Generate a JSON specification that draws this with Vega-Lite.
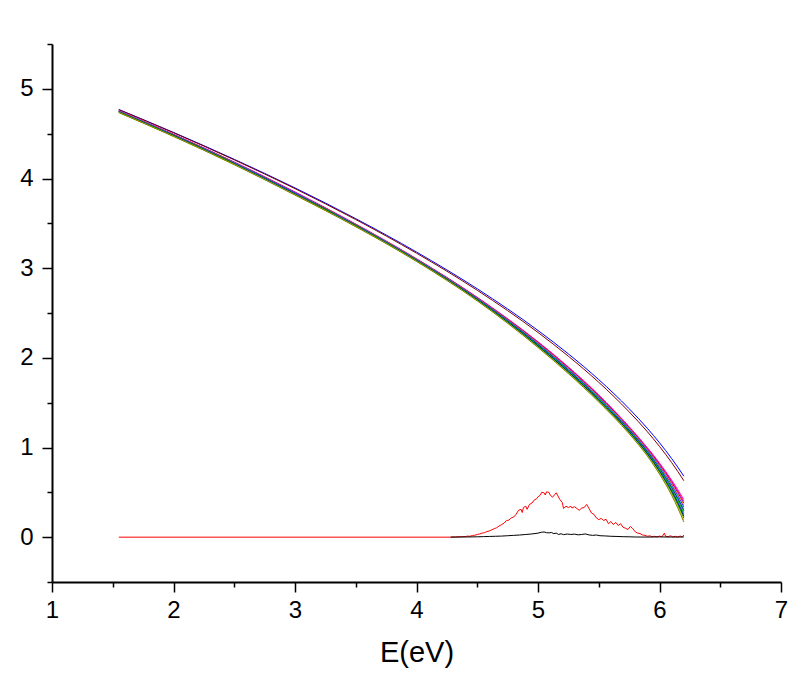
{
 "$schema": "https://vega.github.io/schema/vega-lite/v6.json",
 "width": 729, "height": 538,
 "autosize": {"type": "none"},
 "padding": {"left": 52, "top": 44, "right": 19, "bottom": 104},
 "background": "white",
 "config": {"view": {"stroke": null}},
 "datasets": {
  "fam": [
   {"c":"Blue","x":1.55,"y":4.770},{"c":"Blue","x":2,"y":4.514},{"c":"Blue","x":2.5,"y":4.214},{"c":"Blue","x":3,"y":3.895},{"c":"Blue","x":3.5,"y":3.552},{"c":"Blue","x":4,"y":3.180},{"c":"Blue","x":4.5,"y":2.770},{"c":"Blue","x":5,"y":2.305},{"c":"Blue","x":5.25,"y":2.044},{"c":"Blue","x":5.5,"y":1.757},{"c":"Blue","x":5.75,"y":1.433},{"c":"Blue","x":5.9,"y":1.214},{"c":"Blue","x":6,"y":1.053},{"c":"Blue","x":6.1,"y":0.877},{"c":"Blue","x":6.15,"y":0.782},{"c":"Blue","x":6.2,"y":0.680},
   {"c":"Wine","x":1.55,"y":4.767},{"c":"Wine","x":2,"y":4.510},{"c":"Wine","x":2.5,"y":4.208},{"c":"Wine","x":3,"y":3.887},{"c":"Wine","x":3.5,"y":3.542},{"c":"Wine","x":4,"y":3.167},{"c":"Wine","x":4.5,"y":2.753},{"c":"Wine","x":5,"y":2.283},{"c":"Wine","x":5.25,"y":2.018},{"c":"Wine","x":5.5,"y":1.727},{"c":"Wine","x":5.75,"y":1.398},{"c":"Wine","x":5.9,"y":1.176},{"c":"Wine","x":6,"y":1.012},{"c":"Wine","x":6.1,"y":0.832},{"c":"Wine","x":6.15,"y":0.734},{"c":"Wine","x":6.2,"y":0.630},
   {"c":"Magenta","x":1.55,"y":4.755},{"c":"Magenta","x":2,"y":4.494},{"c":"Magenta","x":2.5,"y":4.184},{"c":"Magenta","x":3,"y":3.850},{"c":"Magenta","x":3.5,"y":3.492},{"c":"Magenta","x":4,"y":3.105},{"c":"Magenta","x":4.5,"y":2.675},{"c":"Magenta","x":5,"y":2.180},{"c":"Magenta","x":5.25,"y":1.899},{"c":"Magenta","x":5.5,"y":1.587},{"c":"Magenta","x":5.75,"y":1.233},{"c":"Magenta","x":5.9,"y":0.999},{"c":"Magenta","x":6,"y":0.828},{"c":"Magenta","x":6.1,"y":0.637},{"c":"Magenta","x":6.15,"y":0.532},{"c":"Magenta","x":6.2,"y":0.420},
   {"c":"Pink","x":1.55,"y":4.753},{"c":"Pink","x":2,"y":4.492},{"c":"Pink","x":2.5,"y":4.182},{"c":"Pink","x":3,"y":3.847},{"c":"Pink","x":3.5,"y":3.490},{"c":"Pink","x":4,"y":3.103},{"c":"Pink","x":4.5,"y":2.672},{"c":"Pink","x":5,"y":2.175},{"c":"Pink","x":5.25,"y":1.893},{"c":"Pink","x":5.5,"y":1.580},{"c":"Pink","x":5.75,"y":1.226},{"c":"Pink","x":5.9,"y":0.991},{"c":"Pink","x":6,"y":0.818},{"c":"Pink","x":6.1,"y":0.623},{"c":"Pink","x":6.15,"y":0.515},{"c":"Pink","x":6.2,"y":0.399},
   {"c":"Purple","x":1.55,"y":4.752},{"c":"Purple","x":2,"y":4.490},{"c":"Purple","x":2.5,"y":4.179},{"c":"Purple","x":3,"y":3.844},{"c":"Purple","x":3.5,"y":3.487},{"c":"Purple","x":4,"y":3.100},{"c":"Purple","x":4.5,"y":2.668},{"c":"Purple","x":5,"y":2.169},{"c":"Purple","x":5.25,"y":1.886},{"c":"Purple","x":5.5,"y":1.574},{"c":"Purple","x":5.75,"y":1.220},{"c":"Purple","x":5.9,"y":0.983},{"c":"Purple","x":6,"y":0.807},{"c":"Purple","x":6.1,"y":0.609},{"c":"Purple","x":6.15,"y":0.498},{"c":"Purple","x":6.2,"y":0.378},
   {"c":"Orange","x":1.55,"y":4.750},{"c":"Orange","x":2,"y":4.488},{"c":"Orange","x":2.5,"y":4.177},{"c":"Orange","x":3,"y":3.841},{"c":"Orange","x":3.5,"y":3.485},{"c":"Orange","x":4,"y":3.098},{"c":"Orange","x":4.5,"y":2.665},{"c":"Orange","x":5,"y":2.164},{"c":"Orange","x":5.25,"y":1.880},{"c":"Orange","x":5.5,"y":1.567},{"c":"Orange","x":5.75,"y":1.213},{"c":"Orange","x":5.9,"y":0.975},{"c":"Orange","x":6,"y":0.797},{"c":"Orange","x":6.1,"y":0.594},{"c":"Orange","x":6.15,"y":0.481},{"c":"Orange","x":6.2,"y":0.358},
   {"c":"Violet","x":1.55,"y":4.748},{"c":"Violet","x":2,"y":4.486},{"c":"Violet","x":2.5,"y":4.174},{"c":"Violet","x":3,"y":3.838},{"c":"Violet","x":3.5,"y":3.482},{"c":"Violet","x":4,"y":3.095},{"c":"Violet","x":4.5,"y":2.662},{"c":"Violet","x":5,"y":2.158},{"c":"Violet","x":5.25,"y":1.874},{"c":"Violet","x":5.5,"y":1.560},{"c":"Violet","x":5.75,"y":1.206},{"c":"Violet","x":5.9,"y":0.967},{"c":"Violet","x":6,"y":0.786},{"c":"Violet","x":6.1,"y":0.580},{"c":"Violet","x":6.15,"y":0.464},{"c":"Violet","x":6.2,"y":0.337},
   {"c":"Cyan","x":1.55,"y":4.747},{"c":"Cyan","x":2,"y":4.484},{"c":"Cyan","x":2.5,"y":4.172},{"c":"Cyan","x":3,"y":3.835},{"c":"Cyan","x":3.5,"y":3.480},{"c":"Cyan","x":4,"y":3.093},{"c":"Cyan","x":4.5,"y":2.658},{"c":"Cyan","x":5,"y":2.153},{"c":"Cyan","x":5.25,"y":1.868},{"c":"Cyan","x":5.5,"y":1.554},{"c":"Cyan","x":5.75,"y":1.200},{"c":"Cyan","x":5.9,"y":0.959},{"c":"Cyan","x":6,"y":0.776},{"c":"Cyan","x":6.1,"y":0.566},{"c":"Cyan","x":6.15,"y":0.447},{"c":"Cyan","x":6.2,"y":0.316},
   {"c":"Navy","x":1.55,"y":4.745},{"c":"Navy","x":2,"y":4.482},{"c":"Navy","x":2.5,"y":4.169},{"c":"Navy","x":3,"y":3.833},{"c":"Navy","x":3.5,"y":3.477},{"c":"Navy","x":4,"y":3.090},{"c":"Navy","x":4.5,"y":2.655},{"c":"Navy","x":5,"y":2.148},{"c":"Navy","x":5.25,"y":1.861},{"c":"Navy","x":5.5,"y":1.547},{"c":"Navy","x":5.75,"y":1.193},{"c":"Navy","x":5.9,"y":0.952},{"c":"Navy","x":6,"y":0.765},{"c":"Navy","x":6.1,"y":0.552},{"c":"Navy","x":6.15,"y":0.430},{"c":"Navy","x":6.2,"y":0.295},
   {"c":"Green","x":1.55,"y":4.743},{"c":"Green","x":2,"y":4.479},{"c":"Green","x":2.5,"y":4.167},{"c":"Green","x":3,"y":3.830},{"c":"Green","x":3.5,"y":3.475},{"c":"Green","x":4,"y":3.088},{"c":"Green","x":4.5,"y":2.652},{"c":"Green","x":5,"y":2.142},{"c":"Green","x":5.25,"y":1.855},{"c":"Green","x":5.5,"y":1.540},{"c":"Green","x":5.75,"y":1.186},{"c":"Green","x":5.9,"y":0.944},{"c":"Green","x":6,"y":0.755},{"c":"Green","x":6.1,"y":0.538},{"c":"Green","x":6.15,"y":0.412},{"c":"Green","x":6.2,"y":0.274},
   {"c":"DarkCyan","x":1.55,"y":4.742},{"c":"DarkCyan","x":2,"y":4.477},{"c":"DarkCyan","x":2.5,"y":4.164},{"c":"DarkCyan","x":3,"y":3.827},{"c":"DarkCyan","x":3.5,"y":3.472},{"c":"DarkCyan","x":4,"y":3.085},{"c":"DarkCyan","x":4.5,"y":2.648},{"c":"DarkCyan","x":5,"y":2.137},{"c":"DarkCyan","x":5.25,"y":1.849},{"c":"DarkCyan","x":5.5,"y":1.534},{"c":"DarkCyan","x":5.75,"y":1.180},{"c":"DarkCyan","x":5.9,"y":0.936},{"c":"DarkCyan","x":6,"y":0.745},{"c":"DarkCyan","x":6.1,"y":0.524},{"c":"DarkCyan","x":6.15,"y":0.395},{"c":"DarkCyan","x":6.2,"y":0.253},
   {"c":"Royal","x":1.55,"y":4.740},{"c":"Royal","x":2,"y":4.475},{"c":"Royal","x":2.5,"y":4.162},{"c":"Royal","x":3,"y":3.824},{"c":"Royal","x":3.5,"y":3.470},{"c":"Royal","x":4,"y":3.083},{"c":"Royal","x":4.5,"y":2.645},{"c":"Royal","x":5,"y":2.131},{"c":"Royal","x":5.25,"y":1.843},{"c":"Royal","x":5.5,"y":1.527},{"c":"Royal","x":5.75,"y":1.173},{"c":"Royal","x":5.9,"y":0.928},{"c":"Royal","x":6,"y":0.734},{"c":"Royal","x":6.1,"y":0.509},{"c":"Royal","x":6.15,"y":0.378},{"c":"Royal","x":6.2,"y":0.233},
   {"c":"Olive","x":1.55,"y":4.738},{"c":"Olive","x":2,"y":4.473},{"c":"Olive","x":2.5,"y":4.159},{"c":"Olive","x":3,"y":3.821},{"c":"Olive","x":3.5,"y":3.467},{"c":"Olive","x":4,"y":3.080},{"c":"Olive","x":4.5,"y":2.642},{"c":"Olive","x":5,"y":2.126},{"c":"Olive","x":5.25,"y":1.836},{"c":"Olive","x":5.5,"y":1.520},{"c":"Olive","x":5.75,"y":1.166},{"c":"Olive","x":5.9,"y":0.920},{"c":"Olive","x":6,"y":0.724},{"c":"Olive","x":6.1,"y":0.495},{"c":"Olive","x":6.15,"y":0.361},{"c":"Olive","x":6.2,"y":0.212},
   {"c":"Yellow","x":1.55,"y":4.737},{"c":"Yellow","x":2,"y":4.471},{"c":"Yellow","x":2.5,"y":4.157},{"c":"Yellow","x":3,"y":3.818},{"c":"Yellow","x":3.5,"y":3.465},{"c":"Yellow","x":4,"y":3.078},{"c":"Yellow","x":4.5,"y":2.638},{"c":"Yellow","x":5,"y":2.120},{"c":"Yellow","x":5.25,"y":1.830},{"c":"Yellow","x":5.5,"y":1.514},{"c":"Yellow","x":5.75,"y":1.160},{"c":"Yellow","x":5.9,"y":0.912},{"c":"Yellow","x":6,"y":0.713},{"c":"Yellow","x":6.1,"y":0.481},{"c":"Yellow","x":6.15,"y":0.344},{"c":"Yellow","x":6.2,"y":0.191},
   {"c":"DarkYellow","x":1.55,"y":4.735},{"c":"DarkYellow","x":2,"y":4.469},{"c":"DarkYellow","x":2.5,"y":4.154},{"c":"DarkYellow","x":3,"y":3.815},{"c":"DarkYellow","x":3.5,"y":3.462},{"c":"DarkYellow","x":4,"y":3.075},{"c":"DarkYellow","x":4.5,"y":2.635},{"c":"DarkYellow","x":5,"y":2.115},{"c":"DarkYellow","x":5.25,"y":1.824},{"c":"DarkYellow","x":5.5,"y":1.507},{"c":"DarkYellow","x":5.75,"y":1.153},{"c":"DarkYellow","x":5.9,"y":0.904},{"c":"DarkYellow","x":6,"y":0.703},{"c":"DarkYellow","x":6.1,"y":0.467},{"c":"DarkYellow","x":6.15,"y":0.327},{"c":"DarkYellow","x":6.2,"y":0.170}
  ],
  "noise": [
   {"c":"Red","x":1.55,"y":0},{"c":"Red","x":4.28,"y":0},{"c":"Red","x":4.30,"y":0.003},{"c":"Red","x":4.32,"y":0.002},{"c":"Red","x":4.34,"y":0.005},{"c":"Red","x":4.36,"y":0.004},{"c":"Red","x":4.38,"y":0.008},{"c":"Red","x":4.40,"y":0.006},{"c":"Red","x":4.42,"y":0.012},{"c":"Red","x":4.44,"y":0.010},{"c":"Red","x":4.46,"y":0.018},{"c":"Red","x":4.48,"y":0.022},{"c":"Red","x":4.50,"y":0.030},{"c":"Red","x":4.52,"y":0.036},{"c":"Red","x":4.54,"y":0.045},{"c":"Red","x":4.56,"y":0.050},{"c":"Red","x":4.58,"y":0.062},{"c":"Red","x":4.60,"y":0.070},{"c":"Red","x":4.62,"y":0.082},{"c":"Red","x":4.64,"y":0.095},{"c":"Red","x":4.66,"y":0.105},{"c":"Red","x":4.68,"y":0.125},{"c":"Red","x":4.70,"y":0.140},{"c":"Red","x":4.72,"y":0.155},{"c":"Red","x":4.74,"y":0.185},{"c":"Red","x":4.76,"y":0.190},{"c":"Red","x":4.78,"y":0.215},{"c":"Red","x":4.80,"y":0.225},{"c":"Red","x":4.82,"y":0.255},{"c":"Red","x":4.84,"y":0.300},{"c":"Red","x":4.86,"y":0.310},{"c":"Red","x":4.87,"y":0.275},{"c":"Red","x":4.88,"y":0.330},{"c":"Red","x":4.90,"y":0.345},{"c":"Red","x":4.91,"y":0.310},{"c":"Red","x":4.93,"y":0.365},{"c":"Red","x":4.95,"y":0.380},{"c":"Red","x":4.97,"y":0.415},{"c":"Red","x":4.99,"y":0.430},{"c":"Red","x":5.00,"y":0.450},{"c":"Red","x":5.02,"y":0.470},{"c":"Red","x":5.03,"y":0.500},{"c":"Red","x":5.05,"y":0.495},{"c":"Red","x":5.06,"y":0.470},{"c":"Red","x":5.07,"y":0.505},{"c":"Red","x":5.09,"y":0.500},{"c":"Red","x":5.10,"y":0.470},{"c":"Red","x":5.12,"y":0.445},{"c":"Red","x":5.14,"y":0.480},{"c":"Red","x":5.15,"y":0.495},{"c":"Red","x":5.16,"y":0.470},{"c":"Red","x":5.18,"y":0.420},{"c":"Red","x":5.20,"y":0.385},{"c":"Red","x":5.21,"y":0.320},{"c":"Red","x":5.23,"y":0.345},{"c":"Red","x":5.25,"y":0.330},{"c":"Red","x":5.27,"y":0.345},{"c":"Red","x":5.28,"y":0.325},{"c":"Red","x":5.30,"y":0.340},{"c":"Red","x":5.32,"y":0.320},{"c":"Red","x":5.34,"y":0.300},{"c":"Red","x":5.36,"y":0.325},{"c":"Red","x":5.38,"y":0.330},{"c":"Red","x":5.40,"y":0.365},{"c":"Red","x":5.42,"y":0.320},{"c":"Red","x":5.44,"y":0.270},{"c":"Red","x":5.46,"y":0.255},{"c":"Red","x":5.48,"y":0.215},{"c":"Red","x":5.50,"y":0.195},{"c":"Red","x":5.52,"y":0.210},{"c":"Red","x":5.54,"y":0.185},{"c":"Red","x":5.56,"y":0.200},{"c":"Red","x":5.58,"y":0.150},{"c":"Red","x":5.60,"y":0.175},{"c":"Red","x":5.62,"y":0.140},{"c":"Red","x":5.64,"y":0.165},{"c":"Red","x":5.66,"y":0.130},{"c":"Red","x":5.68,"y":0.150},{"c":"Red","x":5.70,"y":0.110},{"c":"Red","x":5.72,"y":0.100},{"c":"Red","x":5.74,"y":0.085},{"c":"Red","x":5.76,"y":0.120},{"c":"Red","x":5.78,"y":0.095},{"c":"Red","x":5.80,"y":0.060},{"c":"Red","x":5.82,"y":0.045},{"c":"Red","x":5.84,"y":0.040},{"c":"Red","x":5.86,"y":0.025},{"c":"Red","x":5.88,"y":0.020},{"c":"Red","x":5.90,"y":0.010},{"c":"Red","x":5.92,"y":0.015},{"c":"Red","x":5.94,"y":0.005},{"c":"Red","x":5.96,"y":0.010},{"c":"Red","x":5.98,"y":0.003},{"c":"Red","x":6.00,"y":0.012},{"c":"Red","x":6.02,"y":0.004},{"c":"Red","x":6.04,"y":0.045},{"c":"Red","x":6.05,"y":0.010},{"c":"Red","x":6.07,"y":0.006},{"c":"Red","x":6.09,"y":0.015},{"c":"Red","x":6.11,"y":0.003},{"c":"Red","x":6.13,"y":0.010},{"c":"Red","x":6.15,"y":0.002},{"c":"Red","x":6.17,"y":0.012},{"c":"Red","x":6.19,"y":0.005},{"c":"Red","x":6.20,"y":0.025},
   {"c":"Black","x":4.28,"y":0},{"c":"Black","x":4.40,"y":0.002},{"c":"Black","x":4.50,"y":0.004},{"c":"Black","x":4.55,"y":0.006},{"c":"Black","x":4.60,"y":0.008},{"c":"Black","x":4.65,"y":0.010},{"c":"Black","x":4.70,"y":0.012},{"c":"Black","x":4.75,"y":0.016},{"c":"Black","x":4.80,"y":0.020},{"c":"Black","x":4.85,"y":0.024},{"c":"Black","x":4.90,"y":0.030},{"c":"Black","x":4.95,"y":0.036},{"c":"Black","x":5.00,"y":0.045},{"c":"Black","x":5.03,"y":0.055},{"c":"Black","x":5.05,"y":0.058},{"c":"Black","x":5.07,"y":0.050},{"c":"Black","x":5.09,"y":0.048},{"c":"Black","x":5.11,"y":0.052},{"c":"Black","x":5.13,"y":0.040},{"c":"Black","x":5.15,"y":0.045},{"c":"Black","x":5.17,"y":0.030},{"c":"Black","x":5.19,"y":0.038},{"c":"Black","x":5.21,"y":0.028},{"c":"Black","x":5.24,"y":0.035},{"c":"Black","x":5.27,"y":0.030},{"c":"Black","x":5.30,"y":0.034},{"c":"Black","x":5.33,"y":0.026},{"c":"Black","x":5.36,"y":0.030},{"c":"Black","x":5.39,"y":0.036},{"c":"Black","x":5.42,"y":0.025},{"c":"Black","x":5.45,"y":0.020},{"c":"Black","x":5.48,"y":0.024},{"c":"Black","x":5.51,"y":0.016},{"c":"Black","x":5.55,"y":0.014},{"c":"Black","x":5.60,"y":0.010},{"c":"Black","x":5.65,"y":0.008},{"c":"Black","x":5.70,"y":0.005},{"c":"Black","x":5.75,"y":0.004},{"c":"Black","x":5.80,"y":0.002},{"c":"Black","x":5.90,"y":0.001},{"c":"Black","x":6.00,"y":0.003},{"c":"Black","x":6.10,"y":0.001},{"c":"Black","x":6.20,"y":0.002}
  ]
 },
 "encoding": {
  "x": {"field": "x", "type": "quantitative", "title": "E(eV)",
   "scale": {"domain": [1, 7], "nice": false, "zero": false},
   "axis": {"values": [1,1.5,2,2.5,3,3.5,4,4.5,5,5.5,6,6.5,7],
    "labelExpr": "datum.value % 1 === 0 ? format(datum.value, 'd') : ''",
    "tickSize": {"condition": {"test": "datum.value % 1 === 0", "value": 10}, "value": 5},
    "grid": false, "domainColor": "#000000", "domainWidth": 2, "tickColor": "#000000", "tickWidth": 1.5,
    "labelFont": "Liberation Sans", "labelFontSize": 24, "labelColor": "#000000", "labelPadding": 6,
    "labelFlush": false, "labelOverlap": false,
    "titleFont": "Liberation Sans", "titleFontSize": 29, "titleFontWeight": "normal", "titleColor": "#000000", "titlePadding": 16}},
  "y": {"field": "y", "type": "quantitative", "title": null,
   "scale": {"domain": [-0.5, 5.5], "nice": false, "zero": false},
   "axis": {"values": [-0.5,0,0.5,1,1.5,2,2.5,3,3.5,4,4.5,5,5.5],
    "labelExpr": "datum.value % 1 === 0 ? format(datum.value, 'd') : ''",
    "tickSize": {"condition": {"test": "datum.value % 1 === 0", "value": 10}, "value": 5},
    "grid": false, "domainColor": "#000000", "domainWidth": 2, "tickColor": "#000000", "tickWidth": 1.5,
    "labelFont": "Liberation Sans", "labelFontSize": 24, "labelColor": "#000000", "labelPadding": 9,
    "labelFlush": false, "labelOverlap": false}},
  "color": {"field": "c", "type": "nominal", "legend": null,
   "scale": {"domain": ["Black","Red","Green","Blue","Cyan","Magenta","Yellow","DarkYellow","Navy","Purple","Wine","Olive","DarkCyan","Royal","Orange","Violet","Pink"],
    "range": ["#000000","#ff0000","#00c000","#0000ff","#00c8c8","#ff00ff","#d0d000","#808000","#000080","#800080","#800000","#008000","#008080","#0000a0","#ff8000","#8000ff","#ff0080"]}}
 },
 "layer": [
  {"data": {"name": "fam"}, "mark": {"type": "line", "interpolate": "monotone", "strokeWidth": 1}},
  {"data": {"name": "noise"}, "mark": {"type": "line", "strokeWidth": 1}}
 ]
}
